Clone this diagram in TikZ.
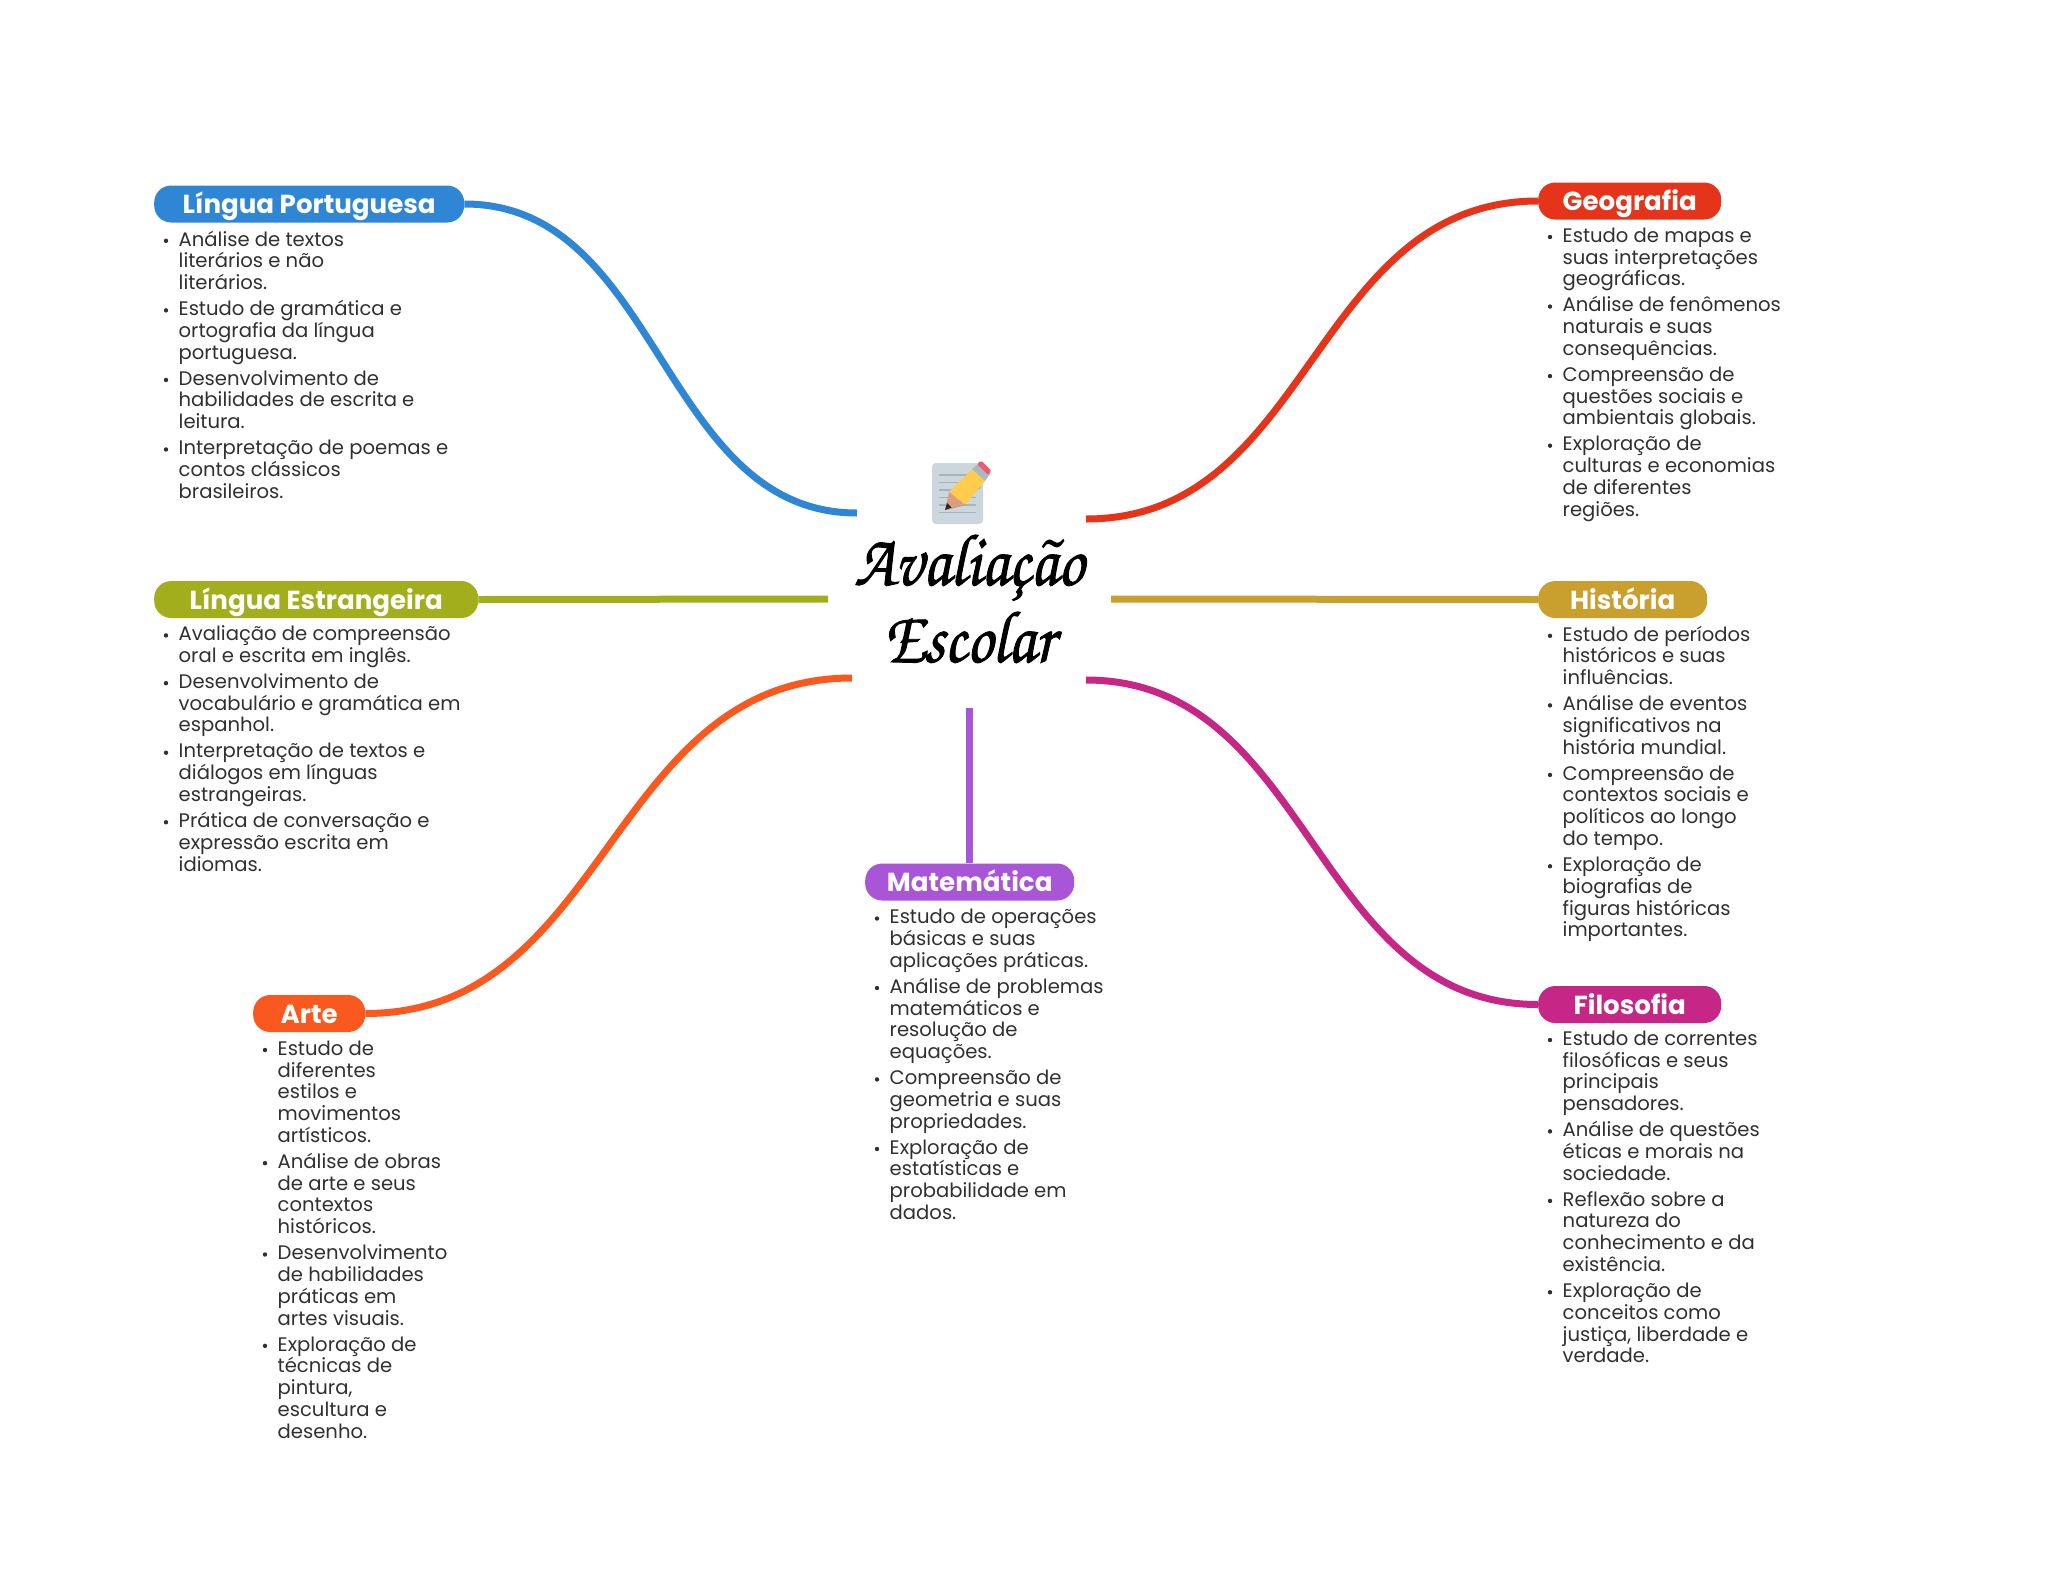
\documentclass[tikz,border=0pt]{standalone}
\usepackage{fontspec}
\setmainfont{Poppins}
\newfontfamily\titlefont[FakeStretch=0.875,FakeBold=1.2]{TeX Gyre Chorus}
\definecolor{cblue}{HTML}{2F86D4}
\definecolor{cred}{HTML}{E5341A}
\definecolor{cgreen}{HTML}{A3AE1C}
\definecolor{cgold}{HTML}{C9A02E}
\definecolor{corange}{HTML}{F9591E}
\definecolor{cmag}{HTML}{C62686}
\definecolor{cpurple}{HTML}{A855D8}
\definecolor{ctext}{HTML}{303030}
\definecolor{ipaper}{HTML}{CCD6DD}
\definecolor{iline}{HTML}{A5B4BF}
\definecolor{ishade}{HTML}{66757F}
\definecolor{ipencil}{HTML}{FFCC4D}
\definecolor{iwood}{HTML}{D99E82}
\definecolor{itip}{HTML}{282828}
\definecolor{iferrule}{HTML}{AAB8C2}
\definecolor{ieraser}{HTML}{F05A6E}
\newcommand{\bul}{\makebox[0pt][r]{\raisebox{5.2pt}{\tikz[baseline]\fill[ctext] (0,0) circle (2.2pt);}\hspace{10.5pt}}}
\newcommand{\nxt}{\\[4.15pt]\bul}
\tikzset{
  pill/.style={fill=#1,rounded corners=17pt,minimum height=37pt,inner sep=0pt,text=white,font=\fontsize{26.1}{30}\selectfont\bfseries,anchor=west,text height=23.5pt,text depth=4.1pt},
  body/.style={anchor=north west,inner sep=0pt,align=left,text=ctext,font=\fontsize{19.6}{21.8}\selectfont},
  conn/.style={draw=#1,line width=7pt},
  ttl/.style={inner sep=0pt,font=\fontsize{74}{80}\titlefont,text=black}
}
\begin{document}
\begin{tikzpicture}[x=1pt,y=-1pt]
\useasboundingbox (0,0) rectangle (2048,1569);
% free ends of connectors near the centre
\coordinate (cb) at (857,513);
\coordinate (cr) at (1086,519);
\coordinate (cg) at (828,599);
\coordinate (cy) at (1111,599);
\coordinate (co) at (852,678);
\coordinate (cm) at (1086,680);
\coordinate (cp) at (969,708);
% connectors (pills are drawn on top)
\path
 (154,204) node[pill=cblue,minimum width=310pt] (lp) {Língua Portuguesa}
 (1538,201) node[pill=cred,minimum width=183pt] (ge) {Geografia}
 (154,599.5) node[pill=cgreen,minimum width=324pt] (le) {Língua Estrangeira}
 (1538,599.5) node[pill=cgold,minimum width=169pt] (hi) {História}
 (865,882) node[pill=cpurple,minimum width=209pt] (ma) {Matemática}
 (253,1013.5) node[pill=corange,minimum width=112pt] (ar) {Arte}
 (1538,1004.5) node[pill=cmag,minimum width=183pt] (fi) {Filosofia};
\draw[conn=cblue] (lp.east) .. controls +(196,0) and +(-196,0) .. (cb);
\draw[conn=cred] (ge.west) .. controls +(-226,0) and +(226,0) .. (cr);
\draw[conn=cgreen] (le.east) -- (cg);
\draw[conn=cgold] (hi.west) -- (cy);
\draw[conn=corange] (ar.east) .. controls +(243,0) and +(-243,0) .. (co);
\draw[conn=cmag] (fi.west) .. controls +(-226,0) and +(226,0) .. (cm);
\draw[conn=cpurple] (ma.north -| cp) -- (cp);
% body text
\node[body] (tlp) at (178.5,230.5) {\bul Análise de textos\\literários e não\\literários.\nxt Estudo de gramática e\\ortografia da língua\\portuguesa.\nxt Desenvolvimento de\\habilidades de escrita e\\leitura.\nxt Interpretação de poemas e\\contos clássicos\\brasileiros.};
\node[body] (tge) at (1562.5,227.5) {\bul Estudo de mapas e\\suas interpretações\\geográficas.\nxt Análise de fenômenos\\naturais e suas\\consequências.\nxt Compreensão de\\questões sociais e\\ambientais globais.\nxt Exploração de\\culturas e economias\\de diferentes\\regiões.};
\node[body] (tle) at (178.5,625.5) {\bul Avaliação de compreensão\\oral e escrita em inglês.\nxt Desenvolvimento de\\vocabulário e gramática em\\espanhol.\nxt Interpretação de textos e\\diálogos em línguas\\estrangeiras.\nxt Prática de conversação e\\expressão escrita em\\idiomas.};
\node[body] (thi) at (1562.5,625.5) {\bul Estudo de períodos\\históricos e suas\\influências.\nxt Análise de eventos\\significativos na\\história mundial.\nxt Compreensão de\\contextos sociais e\\políticos ao longo\\do tempo.\nxt Exploração de\\biografias de\\figuras históricas\\importantes.};
\node[body] (tma) at (889.5,909) {\bul Estudo de operações\\básicas e suas\\aplicações práticas.\nxt Análise de problemas\\matemáticos e\\resolução de\\equações.\nxt Compreensão de\\geometria e suas\\propriedades.\nxt Exploração de\\estatísticas e\\probabilidade em\\dados.};
\node[body] (tar) at (277.5,1040.5) {\bul Estudo de\\diferentes\\estilos e\\movimentos\\artísticos.\nxt Análise de obras\\de arte e seus\\contextos\\históricos.\nxt Desenvolvimento\\de habilidades\\práticas em\\artes visuais.\nxt Exploração de\\técnicas de\\pintura,\\escultura e\\desenho.};
\node[body] (tfi) at (1562.5,1030.5) {\bul Estudo de correntes\\filosóficas e seus\\principais\\pensadores.\nxt Análise de questões\\éticas e morais na\\sociedade.\nxt Reflexão sobre a\\natureza do\\conhecimento e da\\existência.\nxt Exploração de\\conceitos como\\justiça, liberdade e\\verdade.};
% title
\node[ttl,anchor=base] (t1) at (969,585) {Avaliação};
\node[ttl,anchor=base] (t2) at (969,662) {Escolar};
% icon
\fill[ipaper,rounded corners=4pt] (932,463) rectangle (983,524);
\foreach \yy in {475,482.5,490,497.5,505,512.5}
  \draw[iline,line width=1.5pt] (939,\yy) -- (976,\yy);
\fill[ishade] (946,510) -- (980,488) -- (982,478) -- (965,505) -- cycle;
\fill[ipencil] (949,492) -- (973,468) -- (985,481) -- (965,505) -- cycle;
\fill[iwood] (949,492) -- (965,505) -- (945,510) -- cycle;
\fill[itip] (947,503) -- (951.5,507.5) -- (945,510) -- cycle;
\fill[iferrule] (972,469) -- (979,463) -- (990,474) -- (985,481) -- cycle;
\fill[ieraser,rounded corners=1.5pt] (977,464) -- (981,460.5) -- (991.5,471) -- (988,475) -- cycle;
\end{tikzpicture}
\end{document}
